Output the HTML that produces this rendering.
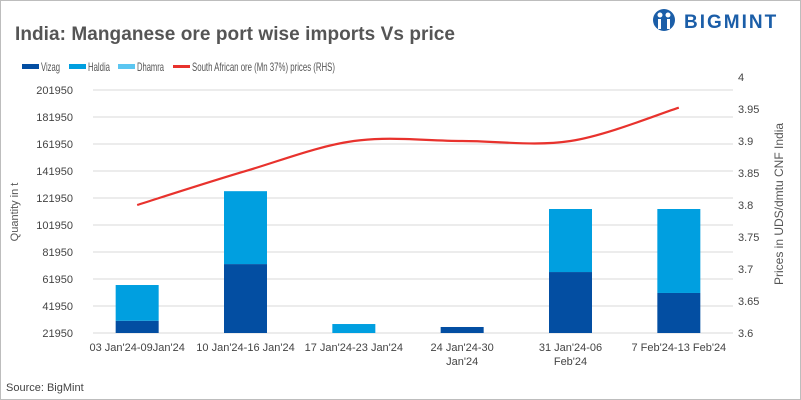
<!DOCTYPE html>
<html><head><meta charset="utf-8"><style>
body{margin:0;background:#fff;font-family:"Liberation Sans",sans-serif}
#wrap{position:relative;width:799px;height:398px;border:1px solid #bdbdbd;overflow:hidden}
</style></head><body>
<div id="wrap">
<svg id="chart" width="799" height="398">
<text x="14" y="39" font-size="19" font-weight="bold" fill="#555" textLength="440">India: Manganese ore port wise imports Vs price</text>
<g>
<circle cx="663" cy="19" r="11" fill="#1b5ea8"/><circle cx="659" cy="14" r="2.5" fill="#fff"/><circle cx="667" cy="14" r="2.5" fill="#fff"/>
<rect x="657" y="18" width="3" height="10" fill="#fff"/><rect x="666" y="18" width="3" height="10" fill="#fff"/>
<text x="683" y="27" font-size="19" font-weight="bold" fill="#1b5ea8" letter-spacing="2">BIGMINT</text></g>
<g>
<rect x="21" y="63" width="17" height="5" fill="#034ea2"/><text x="40" y="70" font-size="12" fill="#555" textLength="19" lengthAdjust="spacingAndGlyphs">Vizag</text>
<rect x="68" y="63" width="17" height="5" fill="#009fe0"/><text x="87" y="70" font-size="12" fill="#555" textLength="22" lengthAdjust="spacingAndGlyphs">Haldia</text>
<rect x="117" y="63" width="17" height="5" fill="#5bc6f1"/><text x="136" y="70" font-size="12" fill="#555" textLength="27" lengthAdjust="spacingAndGlyphs">Dhamra</text>
<rect x="172" y="64" width="17" height="3" fill="#e8322d"/><text x="191" y="70" font-size="12" fill="#555" textLength="143" lengthAdjust="spacingAndGlyphs">South African ore (Mn 37%) prices (RHS)</text>
</g>
<g id="grid"></g><g id="bars"></g><g id="line"></g><g id="axes"></g>
<text transform="translate(17,211) rotate(-90)" text-anchor="middle" font-size="11" fill="#555">Quantity in t</text>
<text transform="translate(782,203) rotate(-90)" text-anchor="middle" font-size="12" fill="#555">Prices in UDS/dmtu CNF India</text>
<text x="5" y="390" font-size="11" fill="#444">Source:  BigMint</text>
</svg></div>
<script>
const categories=[["03 Jan'24-09Jan'24"],["10 Jan'24-16 Jan'24"],["17 Jan'24-23 Jan'24"],["24 Jan'24-30","Jan'24"],["31 Jan'24-06","Feb'24"],["7 Feb'24-13 Feb'24"]];
const vizag=[31000,73000,0,26400,67100,51600];
const haldia=[26500,54000,28600,0,46700,62200];
const dhamra=[0,0,0,0,0,0];
const price=[3.8,3.853,3.9,3.9,3.9,3.952];
const leftTicks=[21950,41950,61950,81950,101950,121950,141950,161950,181950,201950];
const rightTicks=[3.6,3.65,3.7,3.75,3.8,3.85,3.9,3.95,4];
const NS="http://www.w3.org/2000/svg";
const X0=82,X1=732,Y0=332;
const yL=v=>Y0-(v-21950)/180000*243;
const yR=v=>Y0-(v-3.6)/0.4*256;
const bw=(X1-X0)/categories.length;
const xC=i=>X0+bw*(i+0.5);
function mk(p,t,a){const e=document.createElementNS(NS,t);for(const k in a)e.setAttribute(k,a[k]);p.appendChild(e);return e;}
const grid=document.getElementById('grid'),bars=document.getElementById('bars'),axes=document.getElementById('axes'),line=document.getElementById('line');
leftTicks.forEach(v=>{
 const l=mk(grid,'line',{x1:X0+10,x2:X1,y1:yL(v),y2:yL(v),stroke:'#d9d9d9'});
 
 
 const t=mk(axes,'text',{x:72,y:yL(v)+4,'text-anchor':'end','font-size':11,fill:'#444'});t.textContent=v;
 
 
});
rightTicks.forEach(v=>{
 const t=mk(axes,'text',{x:737,y:yR(v)+4,'font-size':11,fill:'#444'});t.textContent=v;
 
 
});
const cl=v=>Math.max(v,21950);
categories.forEach((c,i)=>{
 const x=xC(i)-21.5;let base=0;
 [[vizag,'#034ea2','vizag'],[haldia,'#009fe0','haldia'],[dhamra,'#5bc6f1','dhamra']].forEach(([arr,col,n])=>{
  const v=arr[i];if(v>0){const top=yL(cl(base+v)),bot=yL(cl(base));
   if(bot-top>0){const r=mk(bars,'rect',{x:x,y:top,width:43,height:bot-top,fill:col});
   
   }}
  base+=v;});
 c.forEach((s,j)=>{const t=mk(axes,'text',{x:xC(i),y:350+j*14,'text-anchor':'middle','font-size':11,fill:'#444'});t.textContent=s;
 
 });
});
const P=price.map((v,i)=>[xC(i),yR(v)]);
let d='M'+P[0][0]+','+P[0][1];
for(let i=0;i<P.length-1;i++){const p0=P[Math.max(i-1,0)],p1=P[i],p2=P[i+1],p3=P[Math.min(i+2,P.length-1)];
 d+=` C${p1[0]+(p2[0]-p0[0])/6},${p1[1]+(p2[1]-p0[1])/6} ${p2[0]-(p3[0]-p1[0])/6},${p2[1]-(p3[1]-p1[1])/6} ${p2[0]},${p2[1]}`;}
const pl=mk(line,'path',{d:d,fill:'none',stroke:'#e8322d','stroke-width':2.2});


</script></body></html>
